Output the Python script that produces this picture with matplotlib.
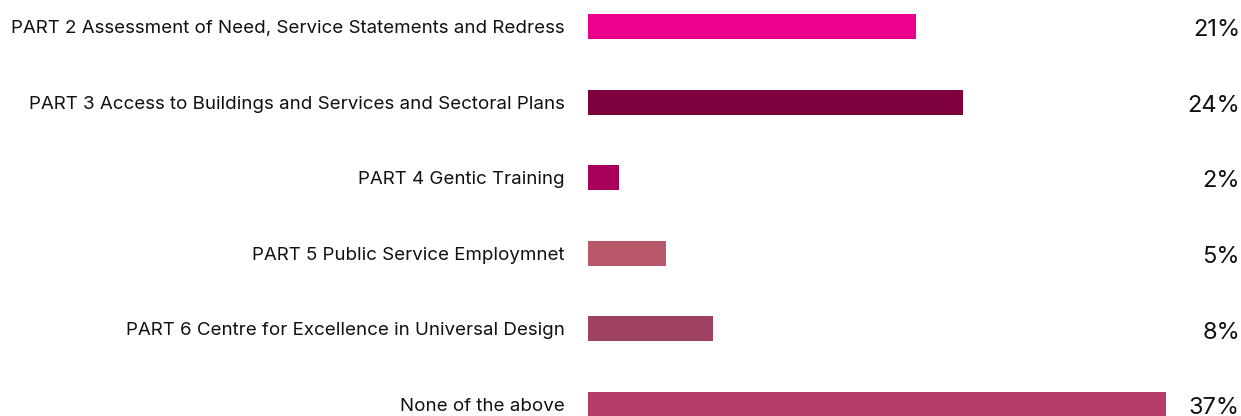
import matplotlib.pyplot as plt
import matplotlib.transforms as mtransforms

categories = [
    "PART 2 Assessment of Need, Service Statements and Redress",
    "PART 3 Access to Buildings and Services and Sectoral Plans",
    "PART 4 Gentic Training",
    "PART 5 Public Service Employmnet",
    "PART 6 Centre for Excellence in Universal Design",
    "None of the above",
]
values = [21, 24, 2, 5, 8, 37]
colors = ["#EC008C", "#7F003F", "#A8005A", "#B8566A", "#9E4163", "#B53C69"]

plt.rcParams["font.family"] = ["Inter", "DejaVu Sans"]

W, H = 1241, 416
fig = plt.figure(figsize=(W / 100, H / 100), dpi=100)

# bars start at x=588px, 37% reaches ~1166px; rows are ~75.6px apart
left = 588
px_per_unit = (1166 - left) / 37
row = 75.6
first = 26.5
ax = fig.add_axes([left / W, 0, (W - left) / W, 1])
ax.set_xlim(0, (W - left) / px_per_unit)
ax.set_ylim(len(values) - 1 + (H - first - (len(values) - 1) * row) / row, -first / row)

ypos = list(range(len(values)))
ax.barh(ypos, values, height=25 / row, color=colors)

ax.set_yticks(ypos)
ax.set_yticklabels(categories, fontsize=13.5, color="#111111")
ax.tick_params(axis="y", length=0, pad=17)
ax.set_xticks([])
for s in ax.spines.values():
    s.set_visible(False)

trans = mtransforms.blended_transform_factory(fig.transFigure, ax.transData)
for y, v in zip(ypos, values):
    ax.text(1240 / W, y + 0.05, f"{v}%", transform=trans, ha="right", va="center",
            fontsize=17, color="#111111")

fig.savefig("out.png", dpi=100)
